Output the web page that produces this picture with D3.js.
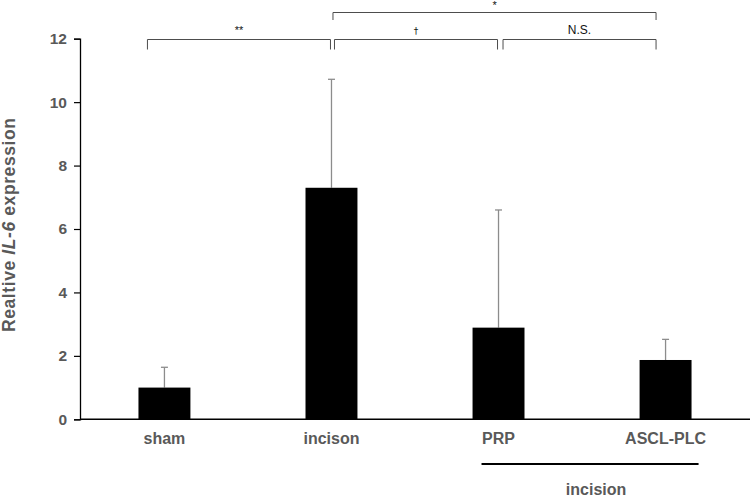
<!DOCTYPE html>
<html>
<head>
<meta charset="utf-8">
<script src="https://cdn.jsdelivr.net/npm/d3@7"></script>
<style>
  body { margin: 0; background: #fff; }
  svg { display: block; font-family: "Liberation Sans", Arial, sans-serif; }
</style>
</head>
<body>
<svg id="chart" width="750" height="499"></svg>
<script>
// data
var groups = ["sham", "incison", "PRP", "ASCL-PLC"];
var means = [1.0, 7.3, 2.89, 1.87];
var errors = [0.64, 3.42, 3.71, 0.65];
var yTicks = [0, 2, 4, 6, 8, 10, 12];

// significance brackets: [from group, to group, label, level]
var brackets = [
	["sham", "incison", "**", 0],
	["incison", "PRP", "\u2020", 0],
	["PRP", "ASCL-PLC", "N.S.", 0],
	["incison", "ASCL-PLC", "*", 1]
];

var svg = d3.select("#chart");
var mLeft = 80, mRight = 750, mTop = 38.7, mBottom = 419.3;
var gray = "#595959";

var x = d3.scaleBand()
	.domain(groups)
	.range([mLeft, mRight])
	.paddingInner(0.689)
	.paddingOuter(0.35);

var y = d3.scaleLinear()
	.domain([0, 12])
	.range([mBottom, mTop]);

function cx(d){ return x(d) + x.bandwidth() / 2; }

// y axis
var yAxis = svg.append("g")
	.attr("transform", "translate(" + mLeft + ",0)")
	.call(d3.axisLeft(y).tickValues(yTicks).tickSize(6).tickPadding(7));
yAxis.select(".domain").attr("stroke", "#000").attr("stroke-width", 1.3);
yAxis.selectAll(".tick line").attr("stroke", "#000").attr("stroke-width", 1.2);
yAxis.selectAll(".tick text")
	.attr("fill", gray)
	.style("font-size", "15.5px")
	.style("font-weight", "bold")
	.style("font-family", "Liberation Sans, Arial, sans-serif");

// error bars (upper only)
var eb = svg.append("g").selectAll("g")
	.data(groups)
	.enter()
	.append("g");
eb.append("line")
	.attr("x1", cx)
	.attr("x2", cx)
	.attr("y1", function(d, i){ return y(means[i]); })
	.attr("y2", function(d, i){ return y(means[i] + errors[i]); })
	.attr("stroke", "#8c8c8c")
	.attr("stroke-width", 1.3);
eb.append("line")
	.attr("x1", function(d){ return cx(d) - 3.5; })
	.attr("x2", function(d){ return cx(d) + 3.5; })
	.attr("y1", function(d, i){ return y(means[i] + errors[i]); })
	.attr("y2", function(d, i){ return y(means[i] + errors[i]); })
	.attr("stroke", "#8c8c8c")
	.attr("stroke-width", 1.3);

// bars
svg.append("g").selectAll("rect")
	.data(groups)
	.enter()
	.append("rect")
	.attr("x", function(d){ return x(d); })
	.attr("width", x.bandwidth())
	.attr("y", function(d, i){ return y(means[i]); })
	.attr("height", function(d, i){ return y(0) - y(means[i]); })
	.attr("fill", "#000");

// x axis line
svg.append("line")
	.attr("x1", mLeft).attr("x2", mRight)
	.attr("y1", mBottom).attr("y2", mBottom)
	.attr("stroke", "#000")
	.attr("stroke-width", 1.5);

// x labels
svg.append("g").selectAll("text")
	.data(groups)
	.enter()
	.append("text")
	.attr("x", cx)
	.attr("y", 444)
	.attr("text-anchor", "middle")
	.attr("fill", gray)
	.style("font-size", "16px")
	.style("font-weight", "bold")
	.text(function(d){ return d; });

// "incision" grouping line under PRP and ASCL-PLC
var gx1 = cx("PRP") - 17;
var gx2 = cx("ASCL-PLC") + 33;
svg.append("line")
	.attr("x1", gx1).attr("x2", gx2)
	.attr("y1", 464).attr("y2", 464)
	.attr("stroke", "#000")
	.attr("stroke-width", 1.8);
svg.append("text")
	.attr("x", (gx1 + gx2) / 2 + 6)
	.attr("y", 494.5)
	.attr("text-anchor", "middle")
	.attr("fill", gray)
	.style("font-size", "16px")
	.style("font-weight", "bold")
	.text("incision");

// y title
var yt = svg.append("text")
	.attr("transform", "translate(14.5,225) rotate(-90)")
	.attr("text-anchor", "middle")
	.attr("fill", gray)
	.attr("textLength", 214)
	.attr("lengthAdjust", "spacing")
	.style("font-size", "17.5px")
	.style("font-weight", "bold");
yt.append("tspan").text("Realtive ");
yt.append("tspan").style("font-style", "italic").text("IL-6");
yt.append("tspan").text(" expression");

// significance brackets
var bg = svg.append("g");
brackets.forEach(function(b){
	var x1, x2;
	if (b[0] == "sham") x1 = cx(b[0]) - 17;
	else if (b[0] == "PRP") x1 = cx(b[0]) + 4.5;
	else x1 = cx(b[0]) + (b[3] == 0 ? 3 : 1.5);
	if (b[1] == "ASCL-PLC") x2 = cx(b[1]) - 9.5;
	else x2 = cx(b[1]) - 1;
	var yy = b[3] == 0 ? 39.5 : 12.5;
	var yl = b[3] == 0 ? 49.5 : 20;
	bg.append("path")
		.attr("d", "M" + x1 + "," + yl + " V" + yy + " H" + x2 + " V" + yl)
		.attr("fill", "none")
		.attr("stroke", "#4d4d4d")
		.attr("stroke-width", 1);
	var isNS = b[2] == "N.S.";
	var lbl = bg.append("text")
		.attr("x", (x1 + x2) / 2)
		.attr("y", b[3] == 0 ? 34 : 8.5)
		.attr("text-anchor", "middle")
		.attr("fill", "#111")
		.style("font-size", isNS ? "12px" : "11px")
		.text(b[2]);
	if (b[2] == "\u2020") lbl.style("font-family", "DejaVu Sans, sans-serif").style("font-size", "9px");
});
</script>
</body>
</html>
